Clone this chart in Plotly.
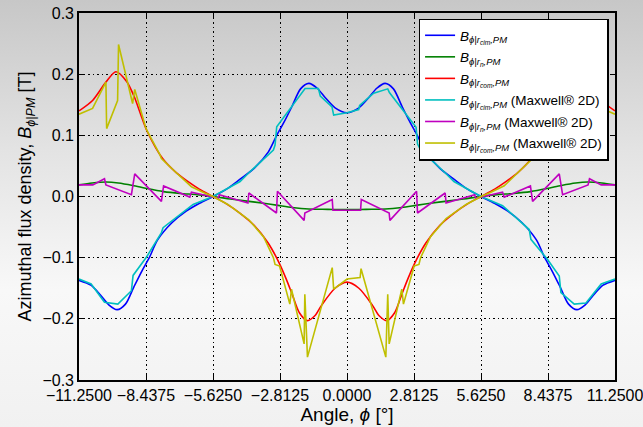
import base64
import plotly.graph_objects as go

# ---------------------------------------------------------------- data
# Analytical azimuthal flux density at the three radii [T]
x_cim = [-11.25, -10.75, -10.35, -10.0, -9.65, -9.3, -8.95, -8.6, -8.3, -7.95, -7.35, -6.75, -6.19,
         -5.625, -5.06, -4.5, -3.9, -3.3, -2.95, -2.65, -2.3, -1.95, -1.6, -1.25, -0.9, -0.5, 0.0,
         0.5, 0.9, 1.25, 1.6, 1.95, 2.3, 2.65, 2.95, 3.3, 3.9, 4.5, 5.06, 5.625,
         6.19, 6.75, 7.35, 7.95, 8.3, 8.6, 8.95, 9.3, 9.65, 10.0, 10.35, 10.75, 11.25]
b_cim = [-0.137, -0.145, -0.161, -0.177, -0.185, -0.176, -0.148, -0.121, -0.100, -0.071, -0.043, -0.024, -0.011,
         0.0, 0.012, 0.028, 0.046, 0.073, 0.100, 0.121, 0.148, 0.176, 0.185, 0.177, 0.161, 0.145, 0.137,
         0.145, 0.161, 0.177, 0.185, 0.176, 0.148, 0.121, 0.100, 0.073, 0.046, 0.028, 0.012, 0.0,
         -0.011, -0.024, -0.043, -0.071, -0.100, -0.121, -0.148, -0.176, -0.185, -0.177, -0.161, -0.145, -0.137]

x_n = [-11.25, -10.7, -10.1, -9.6, -9.0, -8.4, -7.7, -7.0, -6.3, -5.625, -4.9, -4.2, -3.5, -2.9, -2.3,
       -1.6, -0.8, 0.0, 0.8, 1.6, 2.3, 2.9, 3.5, 4.2, 4.9, 5.625, 6.3, 7.0, 7.7, 8.4, 9.0, 9.6, 10.1,
       10.7, 11.25]
b_n = [0.019, 0.022, 0.0236, 0.022, 0.018, 0.013, 0.008, 0.005, 0.003, 0.0, -0.004, -0.0075, -0.011,
       -0.0145, -0.018, -0.0205, -0.021, -0.0215, -0.021, -0.0205, -0.018, -0.0145, -0.011, -0.0075,
       -0.004, 0.0, 0.003, 0.005, 0.008, 0.013, 0.018, 0.022, 0.0236, 0.022, 0.019]

x_com = [-11.25, -10.68, -10.12, -9.7, -9.25, -8.93, -8.65, -8.37, -7.74, -7.17, -6.7, -6.2, -5.625,
         -5.06, -4.5, -3.9, -3.31, -2.83, -2.55, -2.3, -2.0, -1.66, -1.35, -1.07, -0.5, 0.0,
         0.5, 1.07, 1.35, 1.66, 2.0, 2.3, 2.55, 2.83, 3.31, 3.9, 4.5, 5.06, 5.625,
         6.2, 6.7, 7.17, 7.74, 8.37, 8.65, 8.93, 9.25, 9.7, 10.12, 10.68, 11.25]
b_com = [0.140, 0.157, 0.187, 0.204, 0.188, 0.163, 0.133, 0.105, 0.062, 0.039, 0.025, 0.012, 0.0,
         -0.012, -0.027, -0.047, -0.076, -0.110, -0.135, -0.160, -0.190, -0.203, -0.195, -0.178, -0.150, -0.140,
         -0.150, -0.178, -0.195, -0.203, -0.190, -0.160, -0.135, -0.110, -0.076, -0.047, -0.027, -0.012, 0.0,
         0.012, 0.025, 0.039, 0.062, 0.105, 0.133, 0.163, 0.188, 0.204, 0.187, 0.157, 0.140]

# Maxwell 2D finite-element results [T]
xm_cim = [-11.25, -10.74, -10.18, -9.62, -9.05, -8.98, -8.40, -7.79, -7.72, -6.46, -5.625, -4.49, -4.14,
          -3.09, -3.02, -2.95, -1.76, -1.2, -1.12, -0.63, -0.56, 0.0, 0.49, 0.53, 1.12, 1.71, 1.78,
          2.9, 2.96, 3.09, 4.14, 4.49, 5.625, 6.53, 7.65, 7.72, 8.42, 8.91, 8.98, 9.54, 10.03, 10.67, 11.25]
bm_cim = [-0.135, -0.143, -0.173, -0.176, -0.154, -0.129, -0.098, -0.059, -0.051, -0.013, 0.0, 0.0245, 0.038,
          0.076, 0.084, 0.114, 0.1765, 0.1765, 0.164, 0.1465, 0.133, 0.137, 0.142, 0.149, 0.169, 0.176, 0.170,
          0.113, 0.086, 0.076, 0.038, 0.0245, 0.0, -0.015, -0.054, -0.070, -0.103, -0.130, -0.157, -0.176,
          -0.174, -0.143, -0.135]

xm_n = [-11.25, -10.67, -10.18, -10.12, -9.05, -8.91, -7.79, -7.70, -6.60, -6.53, -5.40, -5.36, -4.16,
        -4.12, -2.96, -2.92, -1.80, -1.77, -0.62, -0.59, 0.57, 0.60, 1.77, 1.80, 2.92, 2.96, 4.12, 4.16,
        5.36, 5.40, 6.53, 6.60, 7.70, 7.79, 8.91, 9.05, 10.12, 10.18, 10.67, 11.25]
bm_n = [0.019, 0.019, 0.029, 0.019, 0.003, 0.037, -0.008, 0.0172, -0.001, 0.007, -0.003, 0.003, -0.0105,
        0.0057, -0.027, 0.0085, -0.039, -0.027, -0.005, -0.0226, -0.0226, -0.005, -0.027, -0.039, 0.0085,
        -0.027, 0.0057, -0.0105, 0.003, -0.003, 0.007, -0.001, 0.0172, -0.008, 0.037, 0.003, 0.019, 0.029,
        0.019, 0.019]

xm_com = [-11.25, -10.68, -10.12, -10.09, -9.63, -9.59, -9.0, -8.91, -8.45, -8.40, -7.85, -7.79, -7.2,
          -6.6, -6.53, -6.0, -5.625, -5.0, -4.16, -4.12, -3.5, -3.09, -3.02, -2.83, -2.40, -2.33, -1.80,
          -1.77, -1.66, -0.62, -0.56, 0.0, 0.55, 0.59, 1.63, 1.71, 1.77, 2.30, 2.37, 2.82, 3.02, 3.09,
          3.5, 4.12, 4.16, 5.0, 5.625, 6.0, 6.53, 6.6, 7.2, 7.79, 7.85, 8.40, 8.45, 8.91, 9.0, 9.59,
          9.63, 10.09, 10.12, 10.68, 11.25]
bm_com = [0.1346, 0.144, 0.187, 0.111, 0.157, 0.2485, 0.152, 0.175, 0.113, 0.108, 0.068, 0.062, 0.040,
          0.0175, 0.016, 0.006, 0.0, -0.013, -0.036, -0.038, -0.066, -0.100, -0.111, -0.1136, -0.176,
          -0.1515, -0.241, -0.160, -0.2626, -0.1163, -0.1515, -0.135, -0.1325, -0.118, -0.2626, -0.160,
          -0.241, -0.1515, -0.176, -0.1136, -0.111, -0.100, -0.066, -0.038, -0.036, -0.013, 0.0, 0.006,
          0.016, 0.0175, 0.040, 0.062, 0.068, 0.108, 0.113, 0.175, 0.152, 0.2485, 0.157, 0.111, 0.187,
          0.144, 0.1346]

x_ticks = [-11.25, -8.4375, -5.625, -2.8125, 0.0, 2.8125, 5.625, 8.4375, 11.25]
y_ticks = [-0.3, -0.2, -0.1, 0.0, 0.1, 0.2, 0.3]

FONT = "Liberation Sans, Arial, Helvetica, sans-serif"


def bname(radius, suffix=""):
    return ("<i>B</i><sub><i>ϕ|r</i><sub><i>" + radius + "</i></sub><i>,PM</i></sub>" + suffix)


series = [
    (x_cim, b_cim, "#0000ff", bname("cim"), "spline"),
    (x_n, b_n, "#008000", bname("n"), "spline"),
    (x_com, b_com, "#ff0000", bname("com"), "spline"),
    (xm_cim, bm_cim, "#00bfbf", bname("cim", " (Maxwell® 2D)"), "linear"),
    (xm_n, bm_n, "#bf00bf", bname("n", " (Maxwell® 2D)"), "linear"),
    (xm_com, bm_com, "#bfbf00", bname("com", " (Maxwell® 2D)"), "linear"),
]

fig = go.Figure()
for i, (xs, ys, col, name, shape) in enumerate(series):
    fig.add_trace(go.Scatter(x=xs, y=ys, mode="lines", name=name, legendgroup=f"g{i}",
                             line=dict(color=col, width=1.6, shape=shape, smoothing=0.8)))

# soft grey backdrop behind the whole figure
svg = ('<svg xmlns="http://www.w3.org/2000/svg" width="643" height="427">'
       '<defs><linearGradient id="g" x1="0" y1="0" x2="0" y2="1">'
       '<stop offset="0" stop-color="#c7c7c7"/>'
       '<stop offset="0.15" stop-color="#d3d3d3"/>'
       '<stop offset="0.35" stop-color="#e3e3e3"/>'
       '<stop offset="0.55" stop-color="#f0f0f0"/>'
       '<stop offset="0.68" stop-color="#f8f8f8"/>'
       '<stop offset="1" stop-color="#f1f1f1"/>'
       '</linearGradient></defs>'
       '<rect width="643" height="427" fill="url(#g)"/></svg>')
src = "data:image/svg+xml;base64," + base64.b64encode(svg.encode()).decode()

L, R, T, B = 79, 28, 13, 47
W, H = 643, 427
pw, ph = W - L - R, H - T - B
fig.add_layout_image(dict(source=src, xref="paper", yref="paper",
                          x=-L / pw, y=1 + T / ph, sizex=W / pw, sizey=H / ph,
                          xanchor="left", yanchor="top", sizing="stretch", layer="below"))

axis_common = dict(
    showline=True, linecolor="black", linewidth=1.6, mirror="ticks",
    ticks="inside", ticklen=5, tickwidth=1, tickcolor="black",
    showgrid=True, gridcolor="black", gridwidth=1, griddash="1.5px,3px",
    zeroline=False, tickfont=dict(family=FONT, size=16, color="black"),
    ticklabeloverflow="allow", automargin=False,
)

fig.update_xaxes(range=[-11.25, 11.25], tickmode="array", tickvals=x_ticks, tickformat=".4f",
                 title=dict(text="Angle, <i>ϕ</i> [°]", font=dict(family=FONT, size=19, color="black"),
                            standoff=4),
                 **axis_common)
fig.update_yaxes(range=[-0.3, 0.3], tickmode="array", tickvals=y_ticks, tickformat=".1f",
                 title=dict(text="Azimuthal flux density, <i>B</i><sub><i>ϕ|PM</i></sub> [T]",
                            font=dict(family=FONT, size=18, color="black"), standoff=6),
                 **axis_common)

fig.update_layout(
    width=W, height=H,
    margin=dict(l=L, r=R, t=T, b=B, autoexpand=False),
    paper_bgcolor="#eeeeee", plot_bgcolor="rgba(0,0,0,0)",
    font=dict(family=FONT, color="black"),
    showlegend=True,
    legend=dict(x=0.988, y=0.985, xanchor="right", yanchor="top",
                bgcolor="white", bordercolor="black", borderwidth=1.5,
                font=dict(family=FONT, size=13.5, color="black"),
                tracegroupgap=1, itemwidth=30),
)

fig.write_html("out.html")
